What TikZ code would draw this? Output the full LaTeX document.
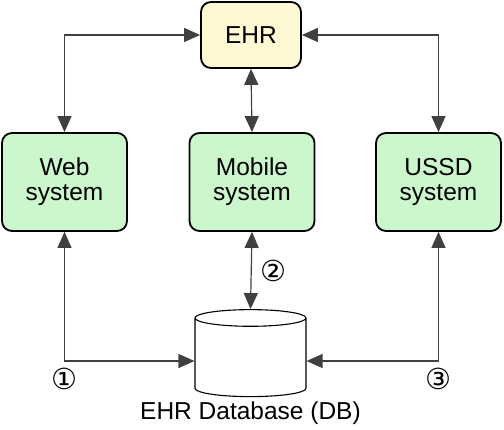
\documentclass[tikz,border=0pt]{standalone}
\usepackage{fontspec}
\setmainfont{Liberation Sans}
\newfontfamily\symfont{DejaVu Sans}
\usetikzlibrary{arrows.meta, positioning, shapes.geometric}

\definecolor{ehrYellow}{HTML}{FFF8D4}
\definecolor{sysGreen}{HTML}{CCF7CC}

\begin{document}
\begin{tikzpicture}[
    x=1pt, y=1pt,
    entity/.style = {draw=black, line width=1.8pt, rounded corners=10pt, align=center,
        font=\fontsize{24.5}{25}\selectfont},
    ehrBox/.style = {entity, fill=ehrYellow, minimum width=100pt, minimum height=66pt},
    sysBox/.style = {entity, fill=sysGreen, minimum width=125pt, minimum height=98pt},
    dbStore/.style = {draw=black, line width=1.1pt, cylinder, shape border rotate=90,
        aspect=2.5, minimum width=111pt, minimum height=87pt},
    biLink/.style = {{Triangle[length=16pt,width=14pt]}-{Triangle[length=16pt,width=14pt]},
        line width=1.2pt, draw=black!75},
    stepNum/.style = {font=\symfont\fontsize{29}{30}\selectfont}
]
\useasboundingbox (0,0) rectangle (504,430);

\node(EHR)[ehrBox] at (251,395) {EHR};

\node(Web)[sysBox] at (64.5,248) {Web\\system};
\node(Mobile)[sysBox] at (252,248) {Mobile\\system};
\node(USSD)[sysBox] at (438.5,248) {USSD\\system};

\node(DB)[dbStore] at (250.5,71) {};
\node(DBLabel)[below=1pt of DB, font=\fontsize{24.5}{26}\selectfont] {EHR Database (DB)};

% EHR to the three systems
\draw[biLink] (EHR.west) -| (Web.north);
\draw[biLink] (EHR.south) -- (Mobile.north);
\draw[biLink] (EHR.east) -| (USSD.north);

% systems to the database
\draw[biLink] (Web.south) |- ([yshift=-2pt]DB.west)
    node[stepNum, pos=0.5, below=3pt] {①};
\draw[biLink] (Mobile.south) -- (DB.north)
    node[stepNum, pos=0.5, right=5pt] {②};
\draw[biLink] (USSD.south) |- ([yshift=-2pt]DB.east)
    node[stepNum, pos=0.5, below=3pt] {③};

\end{tikzpicture}
\end{document}
